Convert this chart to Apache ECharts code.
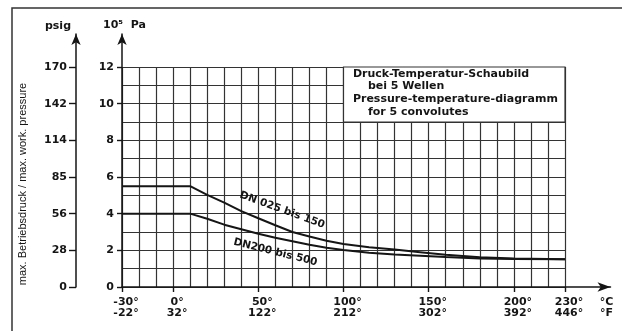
<!DOCTYPE html>
<html>
<head>
<meta charset="utf-8">
<script src="https://cdn.jsdelivr.net/npm/echarts@6/dist/echarts.min.js"></script>
<style>
  html, body { margin: 0; padding: 0; background: #fff; }
  #chart { width: 622px; height: 331px; }
</style>
</head>
<body>
<div id="chart"></div>
<script>
const temps = [-30, 10, 20, 30, 40, 50, 60, 70, 80, 90, 100, 115, 130, 145, 160, 180, 200, 230];
const dn025bis150 = [5.5, 5.5, 5.03, 4.6, 4.14, 3.75, 3.37, 3.0, 2.75, 2.52, 2.34, 2.17, 2.04, 1.9, 1.76, 1.62, 1.56, 1.52];
const dn200bis500 = [4.0, 4.0, 3.72, 3.4, 3.15, 2.9, 2.69, 2.5, 2.3, 2.14, 2.02, 1.87, 1.77, 1.7, 1.63, 1.56, 1.53, 1.52];

// Achsenbeschriftungen
const celsiusTicks = [-30, 0, 50, 100, 150, 200, 230];
const fahrenheitTicks = [-22, 32, 122, 212, 302, 392, 446];
const psigTicks = [0, 28, 56, 85, 114, 142, 170];

const boxLines = ['Druck-Temperatur-Schaubild', 'bei 5 Wellen', 'Pressure-temperature-diagramm', 'for 5 convolutes'];

const ink = '#151515';
const gridInk = '#333';
const boldFont = { fontFamily: 'DejaVu Sans', fontWeight: 'bold', fontSize: 11, color: ink };

const chart = echarts.init(document.getElementById('chart'), null, { renderer: 'canvas' });

// --- Achsen ohne Beschriftung, nur mit Pfeil ---
const arrowLine = {
    show: true,
    onZero: false,
    symbol: ['none', 'arrow'],
    lineStyle: { color: ink, width: 1.5 }
};

const option = {
    animation: false,
    backgroundColor: '#fff',
    graphic: [{
        type: 'rect',
        shape: { x: 12, y: 8, width: 800, height: 500 },
        style: { fill: null, stroke: '#333', lineWidth: 1.5 },
        silent: true
    }],
    grid: [
        { left: 122, top: 67, width: 443, height: 220 },   // Raster
        { left: 122, top: 34, width: 488.5, height: 253 }  // Pfeilachsen
    ],
    xAxis: [{
        gridIndex: 0, type: 'value', min: -30, max: 230, interval: 10, position: 'bottom',
        axisLine: { show: false, onZero: false }, axisTick: { show: false }, axisLabel: { show: false },
        splitLine: { show: true, lineStyle: { color: gridInk, width: 1.2 } }
    }, {
        gridIndex: 0, type: 'value', min: -30, max: 230, position: 'bottom',
        axisLine: { show: false, onZero: false }, splitLine: { show: false },
        axisTick: { show: true, customValues: celsiusTicks, length: 5, lineStyle: { color: ink, width: 1.4 } },
        axisLabel: {
            customValues: celsiusTicks,
            margin: 9,
            lineHeight: 11.5,
            padding: [0, 0, 0, 8],
            ...boldFont,
            formatter: function (v) {
                const i = celsiusTicks.indexOf(v);
                return v + '°\n' + fahrenheitTicks[i] + '°';
            }
        }
    }, {
        gridIndex: 1, type: 'value', min: -30, max: 256.7, position: 'bottom',
        axisLine: Object.assign({}, arrowLine, { symbolSize: [7, 13] }),
        axisTick: { show: false }, axisLabel: { show: false }, splitLine: { show: false },
        name: '°C\n°F', nameLocation: 'end', nameGap: -4,
        nameTextStyle: Object.assign({}, boldFont, { align: 'center', verticalAlign: 'top', lineHeight: 11.5, padding: [9, 0, 0, 0] })
    }],
    yAxis: [{
        gridIndex: 0, type: 'value', min: 0, max: 12, interval: 2, position: 'left',
        axisLine: { show: false, onZero: false }, splitLine: { show: false },
        axisTick: { show: true, length: 5, lineStyle: { color: ink, width: 1.4 } },
        axisLabel: Object.assign({ margin: 8 }, boldFont)
    }, {
        gridIndex: 0, type: 'value', min: 0, max: 12, interval: 1, position: 'left',
        axisLine: { show: false, onZero: false }, axisTick: { show: false }, axisLabel: { show: false },
        splitLine: { show: true, lineStyle: { color: gridInk, width: 1.2 } }
    }, {
        gridIndex: 0, type: 'value', min: 0, max: 12, interval: 2, offset: 46, position: 'left',
        axisLine: { show: false, onZero: false }, splitLine: { show: false },
        axisTick: { show: true, length: 7, lineStyle: { color: ink, width: 1.4 } },
        axisLabel: Object.assign({ margin: 9, formatter: v => String(psigTicks[v / 2]) }, boldFont),
        name: 'max. Betriebsdruck / max. work. pressure',
        nameLocation: 'middle', nameGap: 48,
        nameTextStyle: { fontFamily: 'Liberation Sans', fontSize: 11, color: ink, padding: [0, 14, 0, 0] }
    }, {
        gridIndex: 1, type: 'value', min: 0, max: 10, position: 'left',
        axisLine: Object.assign({}, arrowLine, { symbolSize: [7, 11] }),
        axisTick: { show: false }, axisLabel: { show: false }, splitLine: { show: false },
        name: '10⁵  Pa', nameLocation: 'end', nameGap: 9,
        nameTextStyle: Object.assign({}, boldFont, { align: 'center', verticalAlign: 'middle', padding: [0, 0, 0, 5] })
    }, {
        gridIndex: 1, type: 'value', min: 0, max: 10, position: 'left', offset: 46,
        axisLine: Object.assign({}, arrowLine, { symbolSize: [7, 11] }),
        axisTick: { show: false }, axisLabel: { show: false }, splitLine: { show: false },
        name: 'psig', nameLocation: 'end', nameGap: 8,
        nameTextStyle: Object.assign({}, boldFont, { align: 'right', verticalAlign: 'middle', padding: [0, 5, 0, 0] })
    }],
    series: [{
        name: 'DN 025 bis 150',
        type: 'line',
        xAxisIndex: 0, yAxisIndex: 0,
        data: temps.map((t, i) => [t, dn025bis150[i]]),
        symbol: 'none',
        silent: true,
        lineStyle: { color: ink, width: 2 },
        markPoint: {
            silent: true,
            symbolSize: 0,
            data: [{ coord: [64, 4.2], value: 'DN 025 bis 150' }],
            label: { show: true, position: 'inside', rotate: -20, formatter: '{c}', fontFamily: 'DejaVu Sans', fontWeight: 'bold', fontSize: 10.5, color: ink }
        },
        // weisses Feld mit Titeltext oben rechts
        markArea: {
            silent: true,
            itemStyle: { color: '#fff', borderColor: gridInk, borderWidth: 1.2 },
            label: {
                show: true,
                position: 'insideTopLeft',
                distance: 1,
                padding: [0, 0, 0, 9],
                formatter: '{a|' + boxLines[0] + '}\n{b|' + boxLines[1] + '}\n{a|' + boxLines[2] + '}\n{b|' + boxLines[3] + '}',
                rich: {
                    a: Object.assign({ lineHeight: 12.7 }, boldFont),
                    b: Object.assign({ lineHeight: 12.7, padding: [0, 0, 0, 15] }, boldFont)
                }
            },
            data: [[{ coord: [100, 9] }, { coord: [230, 12] }]]
        }
    }, {
        name: 'DN200 bis 500',
        type: 'line',
        xAxisIndex: 0, yAxisIndex: 0,
        data: temps.map((t, i) => [t, dn200bis500[i]]),
        symbol: 'none',
        silent: true,
        lineStyle: { color: ink, width: 2 },
        markPoint: {
            silent: true,
            symbolSize: 0,
            data: [{ coord: [60, 1.89], value: 'DN200 bis 500' }],
            label: { show: true, position: 'inside', rotate: -14, formatter: '{c}', fontFamily: 'DejaVu Sans', fontWeight: 'bold', fontSize: 10.5, color: ink }
        }
    }]
};

chart.setOption(option);
</script>
</body>
</html>
